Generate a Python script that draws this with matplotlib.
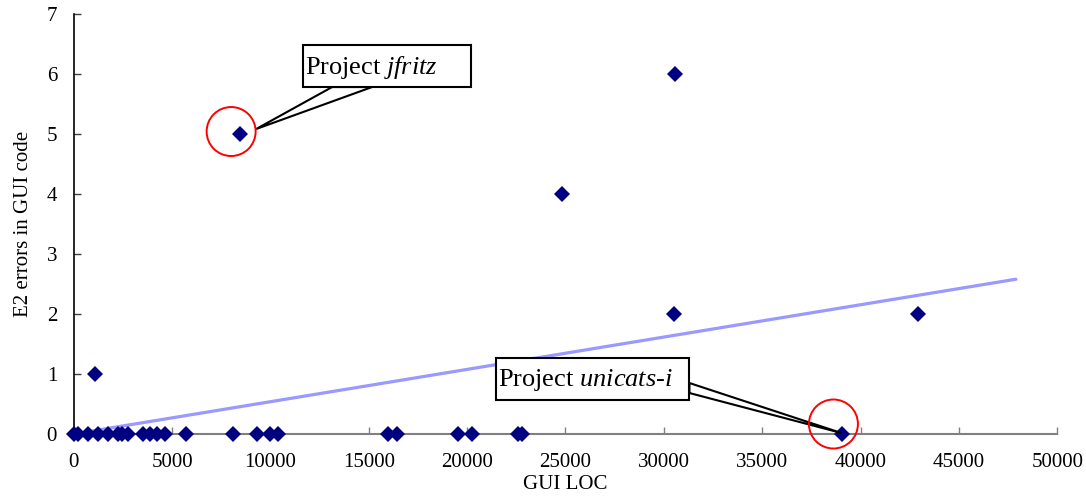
import matplotlib
matplotlib.use("Agg")
import matplotlib.pyplot as plt
import matplotlib.transforms as mtransforms
from matplotlib.patches import Rectangle, Polygon, Circle

plt.rcParams['font.family'] = ['Liberation Serif', 'DejaVu Serif']
plt.rcParams['mathtext.fontset'] = 'custom'
plt.rcParams['mathtext.rm'] = 'Liberation Serif'
plt.rcParams['mathtext.it'] = 'Liberation Serif:italic'

# ---- data ---- #
gui_loc = [0, 220, 730, 1240, 1750, 2250, 2450, 2760, 3530, 3880, 4240, 4640,
           5710, 8100, 9320, 9990, 10390, 15990, 16450, 19550, 20260, 22600,
           22800, 39080,
           1090, 8460, 24800, 30590, 30540, 42900]
e2_errors = [0, 0, 0, 0, 0, 0, 0, 0, 0, 0, 0, 0,
             0, 0, 0, 0, 0, 0, 0, 0, 0, 0,
             0, 0,
             1, 5, 4, 6, 2, 2]

# linear trend line end points
trend_x = [0, 47900]
trend_y = [0.0, 2.58]

# labelled projects
proj_names = [r'Project $\it{jfritz}$', r'Project $\it{unicats}$-$\it{i}$']
proj_x = [8460, 39080]
proj_y = [5, 0]

# ---- plotting ---- #
fig = plt.figure(figsize=(10.86, 5.01), dpi=100)
ax = fig.add_axes([0.0679, 0.1337, 0.9056, 0.8383])

ax.plot(trend_x, trend_y, color='#9999FF', lw=2.3, solid_capstyle='round', zorder=2)
ax.plot(gui_loc, e2_errors, 'D', color='#000080', ms=8.3, mew=0, zorder=3, clip_on=False)

ax.set_xlim(0, 50000)
ax.set_ylim(0, 7)
ax.set_xticks(range(0, 50001, 5000))
ax.set_yticks(range(0, 8))

for s in ['top', 'right']:
    ax.spines[s].set_visible(False)
ax.spines['bottom'].set_color('#808080')
ax.spines['bottom'].set_linewidth(1.5)
ax.spines['left'].set_color('black')
ax.spines['left'].set_linewidth(1.2)

ax.tick_params(axis='x', direction='in', length=5, width=1, color='#808080',
               labelsize=15, pad=14)
ax.tick_params(axis='y', direction='in', length=5, width=1, color='#404040',
               labelsize=15, pad=12)

ax.set_xlabel('GUI LOC', fontsize=15, labelpad=2)
ax.set_ylabel('E2 errors in GUI code', fontsize=15, labelpad=10)

# callouts: box / wedge / circle in pixel offsets from each point
callouts = [
    dict(box=(63, 47, 168, 42), wedge=[(92, 47), (132, 47), (16, 5)],
         circle=(-9, 2.5, 24.5)),
    dict(box=(-346, 34, 193, 42), wedge=[(-153, 51), (-153, 41), (-1, 1)],
         circle=(-9, 10, 24.5)),
]

fig.canvas.draw()
for name, px, py, c in zip(proj_names, proj_x, proj_y, callouts):
    cx, cy = ax.transData.transform((px, py))
    t = mtransforms.Affine2D().translate(cx, cy)
    bx, by, bw, bh = c['box']
    fig.patches.append(Polygon(c['wedge'], closed=True, fc='white', ec='black',
                               lw=1.5, transform=t, figure=fig, zorder=4))
    fig.patches.append(Rectangle((bx, by), bw, bh, fc='white', ec='black',
                                 lw=1.5, transform=t, figure=fig, zorder=5))
    fig.text(bx + 2, by + bh / 2 - 1, name, fontsize=19, ha='left', va='center',
             transform=t, zorder=6)
    ox, oy, r = c['circle']
    fig.patches.append(Circle((ox, oy), r, fc='none', ec='red', lw=1.4,
                              transform=t, figure=fig, zorder=6))

fig.savefig('out.png', dpi=100)
